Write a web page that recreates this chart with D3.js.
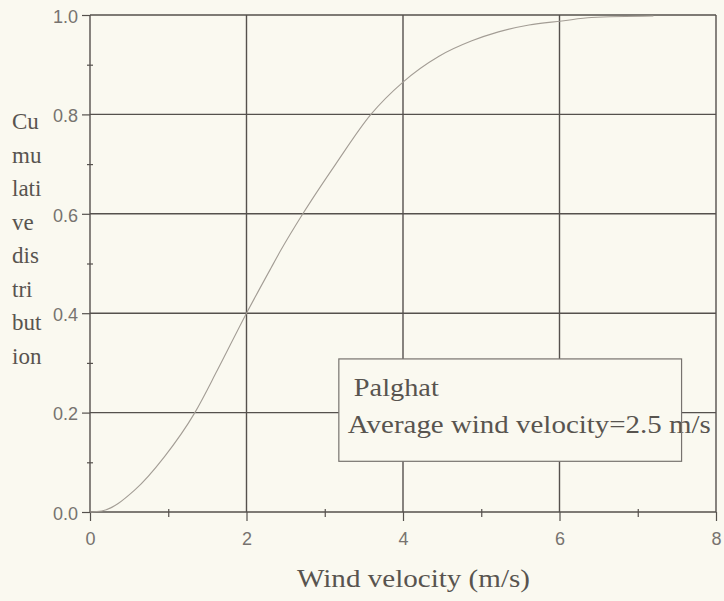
<!DOCTYPE html>
<html>
<head>
<meta charset="utf-8">
<script src="https://cdn.jsdelivr.net/npm/d3@7"></script>
<style>
	body { margin: 0; background: #faf9f0; }
	svg { display: block; }
</style>
</head>
<body>
<svg class="w_chart"></svg>
<script>
	// values
	var velocity = [0, 0.15, 0.57, 0.95, 1.34, 1.63, 2.0, 2.31, 2.44, 2.72, 3.14, 3.59, 4.0, 4.46, 4.88, 5.22, 5.61, 6.03, 6.41, 7.2];
	var cumulative = [0, 0.002, 0.044, 0.111, 0.2, 0.286, 0.4, 0.49, 0.527, 0.6, 0.70, 0.8, 0.865, 0.917, 0.948, 0.966, 0.98, 0.988, 0.995, 0.998];

	var xTicks = [0, 2, 4, 6, 8];
	var xMinor = [1, 3, 5, 7];
	var yTicks = [0, 0.2, 0.4, 0.6, 0.8, 1.0];
	var yMinor = [0.1, 0.3, 0.5, 0.7, 0.9];
	var yTitle = ["Cu", "mu", "lati", "ve", "dis", "tri", "but", "ion"];
	var legendLines = ["Palghat", "Average wind velocity=2.5 m/s"];

	const colors = {
		grid: "#55514d",
		tick: "#77736f",
		text: "#58544f",
		curve: "#a39d95",
		bg: "#faf9f0"
	};
	const margin = {top: 15, bottom: 89, right: 8, left: 90};
	var width = 724 - margin.left - margin.right;
	var height = 601 - margin.top - margin.bottom;

	var svg = d3.select('.w_chart')
		.attr('width', 724)
		.attr('height', 601);

	var chart = svg.append('g')
		.attr('transform', 'translate(' + margin.left + ',' + margin.top + ')');

	var x = d3.scaleLinear().domain([0, 8]).range([0, width]);
	var y = d3.scaleLinear().domain([0, 1]).range([height, 0]);

	// grid lines
	chart.append('g')
		.selectAll('line')
		.data(xTicks)
		.enter()
		.append('line')
		.attr('x1', (d) => x(d)).attr('x2', (d) => x(d))
		.attr('y1', 0).attr('y2', height)
		.attr('stroke', colors.grid)
		.attr('stroke-width', 1.4);

	chart.append('g')
		.selectAll('line')
		.data(yTicks)
		.enter()
		.append('line')
		.attr('y1', (d) => y(d)).attr('y2', (d) => y(d))
		.attr('x1', 0).attr('x2', width)
		.attr('stroke', colors.grid)
		.attr('stroke-width', 1.4);

	// axes
	var xAxis = chart.append('g')
		.attr('transform', 'translate(0,' + height + ')')
		.call(d3.axisBottom(x).tickValues(xTicks).tickSize(9).tickFormat(d3.format('d')));

	var xMinorAxis = chart.append('g')
		.attr('transform', 'translate(0,' + height + ')')
		.call(d3.axisBottom(x).tickValues(xMinor).tickSize(5).tickFormat(''));
	xMinorAxis.selectAll('.tick line').attr('y1', -3);

	var yAxis = chart.append('g')
		.call(d3.axisLeft(y).tickValues(yTicks).tickSize(8).tickFormat(d3.format('.1f')));

	var yMinorAxis = chart.append('g')
		.call(d3.axisLeft(y).tickValues(yMinor).tickSize(3).tickFormat(''));
	yMinorAxis.selectAll('.tick line').attr('x1', 3);

	[xAxis, xMinorAxis, yAxis, yMinorAxis].forEach(function (a) {
		a.select('.domain').remove();
		a.selectAll('.tick line').attr('stroke', colors.grid).attr('stroke-width', 1.2);
		a.selectAll('.tick text')
			.attr('fill', colors.tick)
			.style('font-family', 'Liberation Sans, Arial, sans-serif')
			.style('font-size', '18px');
	});
	xAxis.selectAll('.tick text').attr('y', 20);
	yAxis.selectAll('.tick text').attr('x', -12).attr('dy', '0.4em');

	// curve
	var points = velocity.map((v, i) => ({v: v, c: cumulative[i]}));
	var line = d3.line()
		.x((d) => x(d.v))
		.y((d) => y(d.c))
		.curve(d3.curveMonotoneX);

	chart.append('path')
		.datum(points)
		.attr('d', line)
		.attr('fill', 'none')
		.attr('stroke', colors.curve)
		.attr('stroke-width', 1.1);

	// legend box
	var lx = x(3.18), ly = y(0.308);
	var lw = x(7.56) - lx, lh = y(0.102) - ly;
	chart.append('rect')
		.attr('x', lx).attr('y', ly)
		.attr('width', lw).attr('height', lh)
		.attr('fill', colors.bg);

	chart.append('g')
		.selectAll('text')
		.data(legendLines)
		.enter()
		.append('text')
		.attr('x', (d, i) => lx + (i == 0 ? 15 : 9))
		.attr('y', (d, i) => ly + 37 + i * 37)
		.attr('textLength', (d, i) => i == 0 ? 85 : 363)
		.attr('lengthAdjust', 'spacingAndGlyphs')
		.attr('fill', colors.text)
		.style('font-family', 'Liberation Serif, Times New Roman, serif')
		.style('font-size', '26px')
		.text((d) => d);

	chart.append('rect')
		.attr('x', lx).attr('y', ly)
		.attr('width', lw).attr('height', lh)
		.attr('fill', 'none')
		.attr('stroke', colors.tick)
		.attr('stroke-width', 1.2);

	// titles
	svg.append('text')
		.attr('x', 297)
		.attr('y', 587)
		.attr('textLength', 233)
		.attr('lengthAdjust', 'spacingAndGlyphs')
		.attr('fill', colors.text)
		.style('font-family', 'Liberation Serif, Times New Roman, serif')
		.style('font-size', '26px')
		.text('Wind velocity (m/s)');

	svg.append('g')
		.selectAll('text')
		.data(yTitle)
		.enter()
		.append('text')
		.attr('x', 12)
		.attr('y', (d, i) => 129 + i * 33.5)
		.attr('fill', colors.text)
		.style('font-family', 'Liberation Serif, Times New Roman, serif')
		.style('font-size', '23px')
		.text((d) => d);
</script>
</body>
</html>
